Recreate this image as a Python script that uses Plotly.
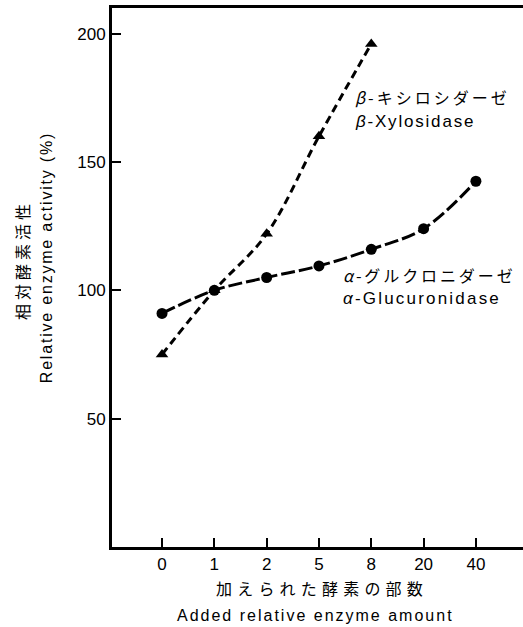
import json
import plotly.graph_objects as go

categories = ["0", "1", "2", "5", "8", "20", "40"]
glucuronidase = [91, 100, 105, 109.5, 116, 124, 142.5]
xylosidase = [75, 100, 122, 160, 196]
xylo_categories = categories[:5]
y_ticks = [50, 100, 150, 200]

JP = "Noto Sans CJK JP"
EN = "Liberation Sans"

fig = go.Figure()
fig.add_trace(go.Scatter(
    x=xylo_categories, y=xylosidase, mode="lines+markers",
    line=dict(color="black", width=3, dash="8px,5px", shape="spline"),
    marker=dict(symbol="triangle-up", size=11, color="black"),
    showlegend=False, cliponaxis=False))
fig.add_trace(go.Scatter(
    x=categories, y=glucuronidase, mode="lines+markers",
    line=dict(color="black", width=3, dash="14px,4px", shape="spline"),
    marker=dict(symbol="circle", size=11, color="black"),
    showlegend=False, cliponaxis=False))

W, H = 523, 627
L, R, T, B = 112, 523, 8, 547

def px(x, y):
    return (x - L) / (R - L), (B - y) / (B - T)

ann = []
spacing = []
def add(text, xp, yp, size, font, sp, xanchor="left", angle=0):
    x, y = px(xp, yp)
    ann.append(dict(text=text, x=x, y=y, xref="paper", yref="paper",
                    showarrow=False, xanchor=xanchor, yanchor="middle",
                    align="left" if xanchor == "left" else "center",
                    textangle=angle, borderpad=0,
                    font=dict(family=font, size=size, color="black")))
    spacing.append(sp)

add("<i>β</i>-キシロシダーゼ", 354, 97, 16, JP, 3.0)
add("<i>β</i>-Xylosidase", 354, 121, 17, EN, 1.8)
add("<i>α</i>-グルクロニダーゼ", 342, 275, 16, JP, 2.9)
add("<i>α</i>-Glucuronidase", 342, 298, 17, EN, 2.2)
add("相対酵素活性", 22, 260, 16, JP, 4.0, xanchor="center", angle=-90)
add("Relative enzyme activity (%)", 46, 258, 16, EN, 1.8, xanchor="center", angle=-90)
add("加えられた酵素の部数", 322, 588, 16, JP, 5.2, xanchor="center")
add("Added relative enzyme amount", 315, 615, 16, EN, 2.0, xanchor="center")

fig.update_layout(
    width=W, height=H,
    margin=dict(l=L, r=W - R, t=T, b=H - B),
    paper_bgcolor="white", plot_bgcolor="white",
    annotations=ann,
    xaxis=dict(type="category", categoryorder="array", categoryarray=categories,
               range=[-0.956, 6.9], showgrid=False, zeroline=False,
               showline=True, linecolor="black", linewidth=3, mirror=True,
               ticks="inside", ticklen=9, tickwidth=2, tickcolor="black",
               tickfont=dict(family=EN, size=17, color="black")),
    yaxis=dict(range=[0, 210], tickvals=y_ticks, showgrid=False, zeroline=False,
               showline=True, linecolor="black", linewidth=3,
               ticks="inside", ticklen=9, tickwidth=2, tickcolor="black",
               tickfont=dict(family=EN, size=17, color="black")),
)

post = """
var gd = document.getElementById('{plot_id}');
var sp = %s;
gd.querySelectorAll('g.annotation').forEach(function(g){
  var i = parseInt(g.getAttribute('data-index'));
  var t = g.querySelector('text.annotation-text');
  if (t && !isNaN(i)) { t.style.letterSpacing = sp[i] + 'px'; }
});
""" % json.dumps(spacing)

fig.write_html("out.html", post_script=post)
